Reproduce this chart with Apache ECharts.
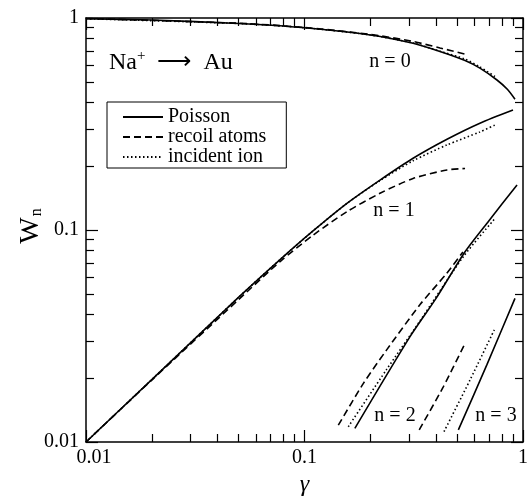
<!DOCTYPE html>
<html>
<head>
<meta charset="utf-8">
<script src="https://cdn.jsdelivr.net/npm/echarts@6/dist/echarts.min.js"></script>
<style>
  html, body { margin: 0; padding: 0; background: #fff; }
  #chart { width: 527px; height: 496px; }
</style>
</head>
<body>
<div id="chart"></div>
<script>
const FONT = "Liberation Serif";

// [gamma, W_n]
const poissonN0 = [[0.01, 0.992], [0.02, 0.978], [0.05, 0.942], [0.1, 0.9], [0.2, 0.832], [0.314, 0.76],
  [0.417, 0.695], [0.543, 0.63], [0.635, 0.58], [0.76, 0.51], [0.85, 0.46], [0.919, 0.414]];
const recoilN0 = [[0.01, 0.995], [0.05, 0.945], [0.1, 0.902], [0.2, 0.837], [0.314, 0.775],
  [0.417, 0.722], [0.543, 0.676]];
const incidentN0 = [[0.01, 0.992], [0.05, 0.942], [0.1, 0.9], [0.2, 0.832], [0.314, 0.762],
  [0.417, 0.697], [0.543, 0.64], [0.635, 0.588], [0.76, 0.522]];

const poissonN1 = [[0.01, 0.01], [0.02, 0.0197], [0.05, 0.0482], [0.0773, 0.0725], [0.1094, 0.099],
  [0.1564, 0.1336], [0.2216, 0.172], [0.314, 0.218], [0.449, 0.268], [0.635, 0.319], [0.9, 0.368]];
const recoilN1 = [[0.01, 0.01], [0.02, 0.0196], [0.05, 0.047], [0.0773, 0.071], [0.1094, 0.0945],
  [0.1564, 0.122], [0.2216, 0.149], [0.314, 0.175], [0.449, 0.192], [0.543, 0.195]];
const incidentN1 = [[0.01, 0.01], [0.02, 0.0197], [0.05, 0.0482], [0.0773, 0.0725], [0.1094, 0.099],
  [0.1564, 0.1336], [0.2216, 0.171], [0.314, 0.212], [0.449, 0.252], [0.635, 0.29], [0.76, 0.316]];

const poissonN2 = [[0.17, 0.0116], [0.304, 0.0314], [0.4, 0.0476], [0.543, 0.079], [0.7, 0.111], [0.939, 0.163]];
const recoilN2 = [[0.1428, 0.012], [0.186, 0.0189], [0.2377, 0.0272], [0.338, 0.0445], [0.448, 0.0625], [0.531, 0.0788]];
const incidentN2 = [[0.1586, 0.0118], [0.2377, 0.022], [0.338, 0.0373], [0.533, 0.0748], [0.737, 0.112]];

const poissonN3 = [[0.506, 0.0114], [0.683, 0.0231], [0.919, 0.0476]];
const recoilN3 = [[0.335, 0.0114], [0.4316, 0.0182], [0.543, 0.0292]];
const incidentN3 = [[0.435, 0.0112], [0.572, 0.0196], [0.745, 0.0344]];

// tick positions on both axes (decades 0.01 .. 1)
const majorTicks = [0.01, 0.1, 1];
const minorTicks = [0.02, 0.03, 0.04, 0.05, 0.06, 0.07, 0.08, 0.09, 0.2, 0.3, 0.4, 0.5, 0.6, 0.7, 0.8, 0.9];

const curveLabels = ["n = 0", "n = 1", "n = 2", "n = 3"];

const STYLES = [
  { name: "Poisson", type: "solid", sets: [poissonN0, poissonN1, poissonN2, poissonN3] },
  { name: "recoil atoms", type: [7, 4], sets: [recoilN0, recoilN1, recoilN2, recoilN3] },
  { name: "incident ion", type: [1.5, 2.5], sets: [incidentN0, incidentN1, incidentN2, incidentN3] },
];

const chart = echarts.init(document.getElementById("chart"));

const BLACK = "#000";

function frameAxis(pos, opts) {
  return Object.assign({
    type: "log",
    logBase: 10,
    min: 0.01,
    max: 1,
    position: pos,
    splitLine: { show: false },
    axisLine: { show: true, onZero: false, lineStyle: { color: BLACK, width: 1.5 } },
    axisTick: { show: false },
    axisLabel: { show: false },
  }, opts);
}

// tick-only axes run over log10(gamma) so the tick marks sit at real decade positions
function tickAxis(pos, values, len) {
  return {
    type: "value",
    min: -2,
    max: 0,
    position: pos,
    splitLine: { show: false },
    axisLine: { show: false, onZero: false },
    axisLabel: { show: false },
    axisTick: { show: true, inside: true, length: len, customValues: values.map(Math.log10),
      lineStyle: { color: BLACK, width: 1.2 } },
  };
}

const fmtTick = v => String(+(+v).toPrecision(3));
const labelStyle = { show: true, color: BLACK, fontFamily: FONT, fontSize: 20, formatter: fmtTick };

const series = [];
STYLES.forEach(st => {
  st.sets.forEach(data => {
    series.push({
      name: st.name,
      type: "line",
      smooth: 0.25,
      symbol: "none",
      data,
      itemStyle: { color: BLACK },
      lineStyle: { color: BLACK, width: 1.6, type: st.type },
      z: 3,
    });
  });
});

const textPos = [[390, 62], [394, 211], [395, 416], [496, 416]];

chart.setOption({
  animation: false,
  grid: { left: 86, right: 4, top: 18, bottom: 54, outerBoundsMode: "none" },
  xAxis: [
    frameAxis("bottom", {
      axisLabel: Object.assign({}, labelStyle, {
        margin: 6,
        // first label sits a little right of the corner, clear of the y label
        formatter: (v, i) => i === 0 ? `{f|${fmtTick(v)}}` : fmtTick(v),
        rich: { f: { fontFamily: FONT, fontSize: 20, color: BLACK, padding: [0, 0, 0, 16] } },
      }),
      name: "γ",
      nameLocation: "middle",
      nameGap: 24,
      nameTextStyle: { fontFamily: FONT, fontSize: 24, fontStyle: "italic", color: BLACK },
    }),
    frameAxis("top"),
    tickAxis("bottom", majorTicks, 12),
    tickAxis("bottom", minorTicks, 8),
    tickAxis("top", majorTicks, 12),
    tickAxis("top", minorTicks, 8),
  ],
  yAxis: [
    frameAxis("left", { axisLabel: Object.assign({ margin: 7 }, labelStyle) }),
    frameAxis("right"),
    tickAxis("left", majorTicks, 12),
    tickAxis("left", minorTicks, 8),
    tickAxis("right", majorTicks, 12),
    tickAxis("right", minorTicks, 8),
  ],
  legend: {
    orient: "vertical",
    left: 107,
    top: 102,
    padding: [5, 20, 1, 15],
    itemGap: 0,
    itemWidth: 40,
    itemHeight: 10,
    borderColor: BLACK,
    borderWidth: 1,
    itemStyle: { opacity: 0 },
    data: STYLES.map(s => s.name),
    textStyle: { fontFamily: FONT, fontSize: 20, color: BLACK },
  },
  graphic: [
    { type: "text", left: 109, top: 49,
      style: {
        text: "{a|Na}{s|+}{a|  ⟶  Au}",
        rich: {
          a: { font: `24px "${FONT}"`, fill: BLACK, verticalAlign: "bottom", lineHeight: 26 },
          s: { font: `15px "${FONT}"`, fill: BLACK, verticalAlign: "top", lineHeight: 15 },
        },
      } },
    { type: "text", x: 31, y: 226, rotation: Math.PI / 2,
      style: {
        text: "{w|W}{n|n}",
        align: "center",
        verticalAlign: "middle",
        rich: {
          w: { font: `28px "${FONT}"`, fill: BLACK, verticalAlign: "top", lineHeight: 28, padding: [0, 1, 2, 0] },
          n: { font: `16px "${FONT}"`, fill: BLACK, verticalAlign: "bottom", lineHeight: 16 },
        },
      } },
    ...curveLabels.map((t, i) => ({
      type: "text", x: textPos[i][0], y: textPos[i][1],
      style: { text: t, font: `20px "${FONT}"`, fill: BLACK, align: "center", verticalAlign: "middle" },
    })),
  ],
  series,
});
</script>
</body>
</html>
